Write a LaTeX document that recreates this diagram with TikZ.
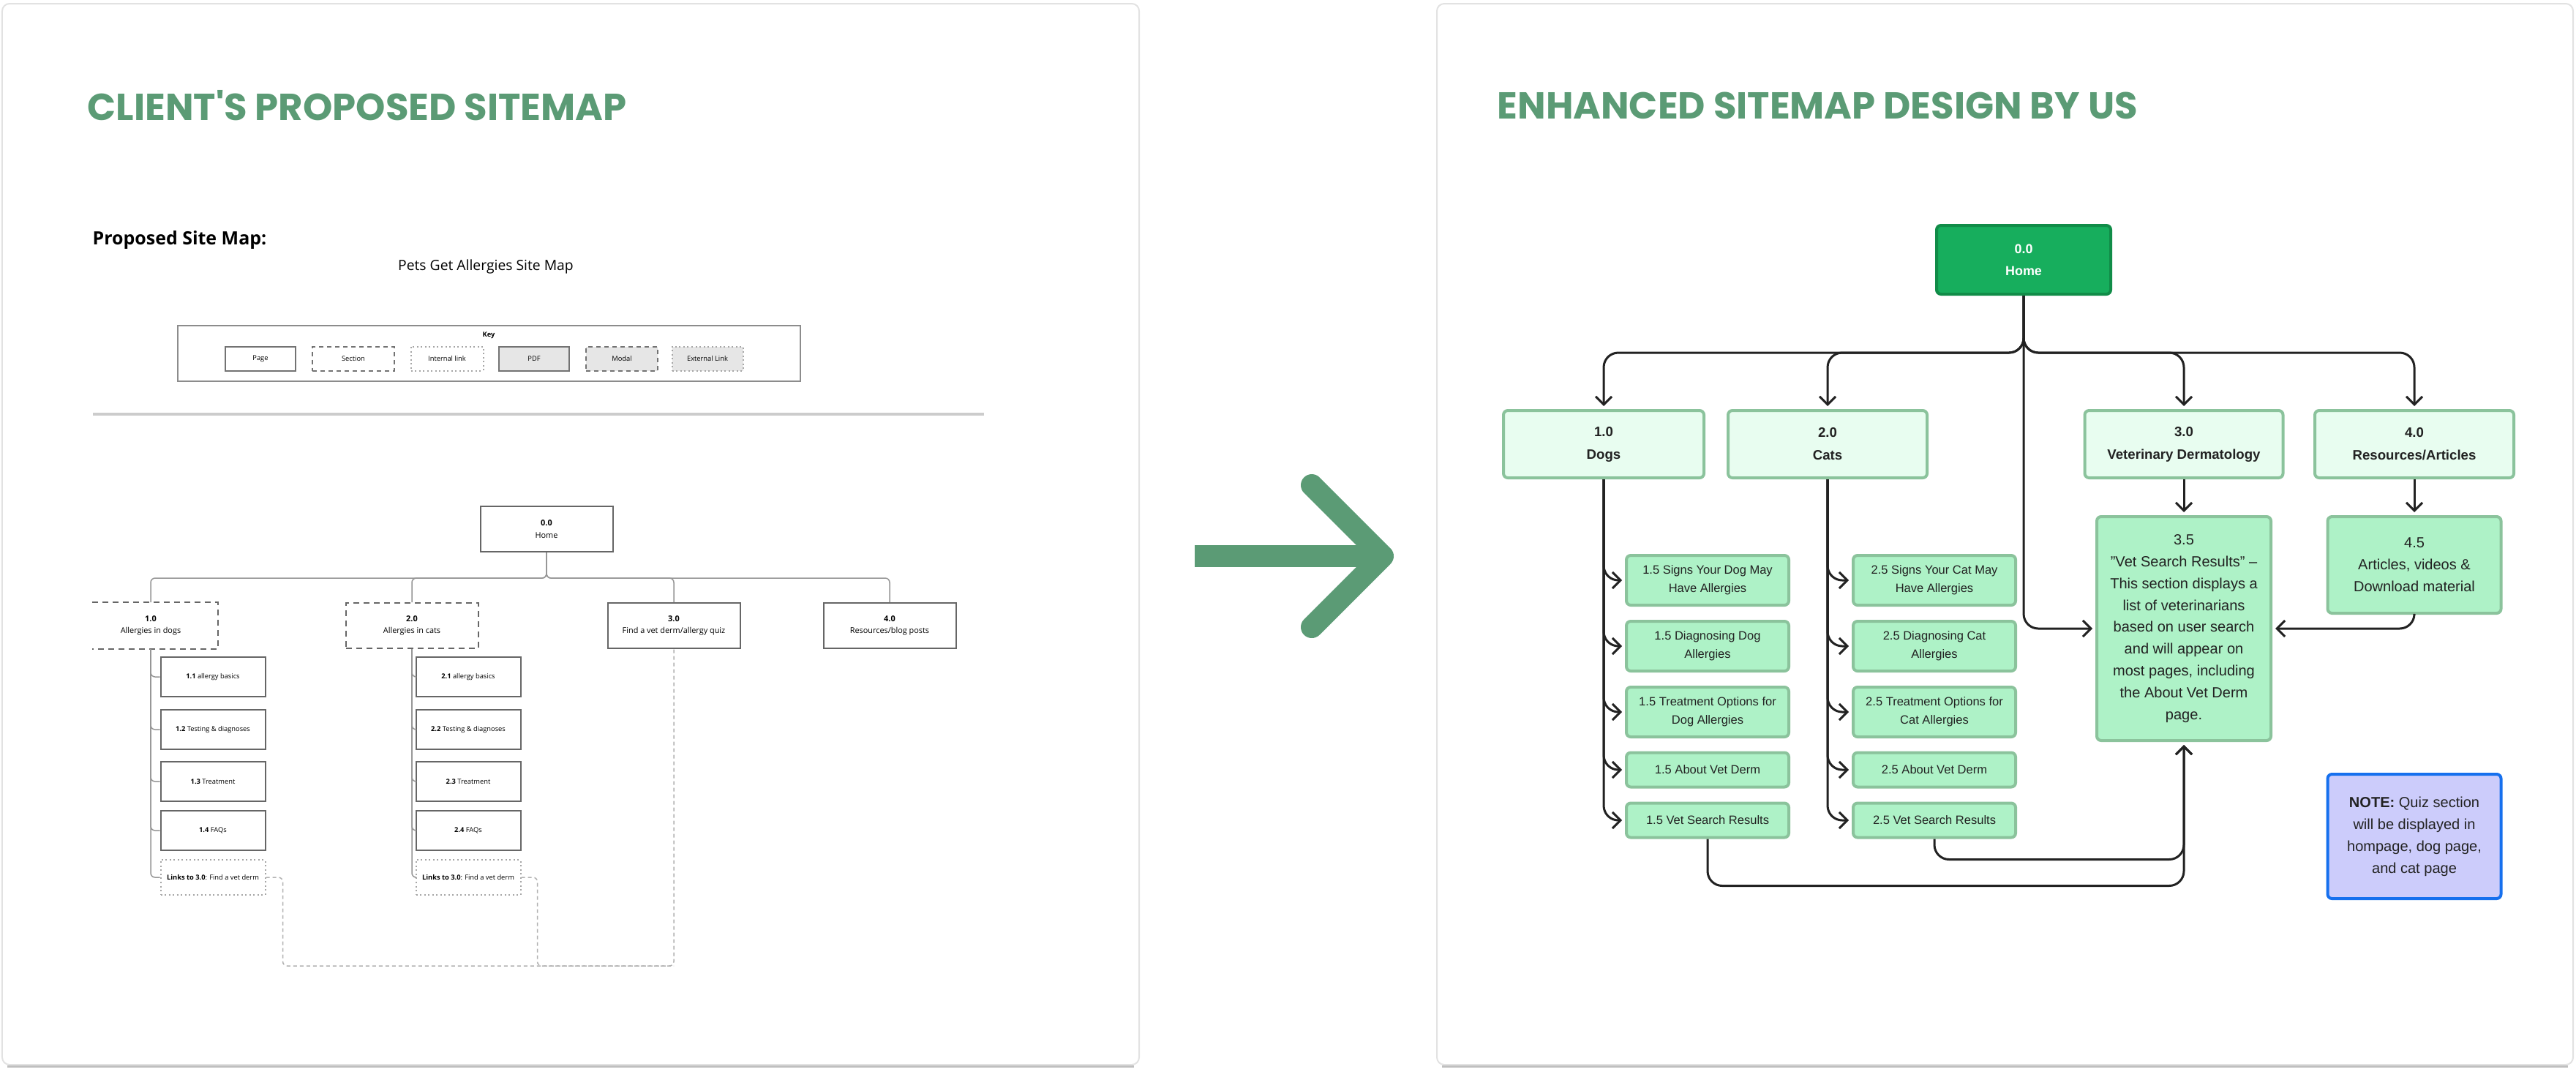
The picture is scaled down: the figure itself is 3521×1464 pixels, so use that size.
\documentclass[tikz,border=0pt]{standalone}
\usepackage{fontspec}
\setmainfont{Liberation Sans}
\newfontfamily\opensans{Open Sans}
\newfontfamily\poppins{Poppins}
\usetikzlibrary{arrows.meta,positioning}
\definecolor{titlegreen}{RGB}{91,155,117}
\definecolor{homegreen}{RGB}{23,174,93}
\definecolor{homeedge}{RGB}{17,140,72}
\definecolor{pagefill}{RGB}{232,253,240}
\definecolor{subfill}{RGB}{174,242,199}
\definecolor{boxedge}{RGB}{139,195,156}
\definecolor{notefill}{RGB}{204,204,251}
\definecolor{noteedge}{RGB}{22,112,238}
\definecolor{inkdark}{RGB}{34,34,34}
\definecolor{wiregray}{RGB}{150,150,150}
\definecolor{panelgray}{RGB}{226,226,226}
\definecolor{keyfill}{RGB}{230,230,230}

\begin{document}
\begin{tikzpicture}[x=0.1mm,y=-0.1mm,
    panel/.style={draw=panelgray,line width=0.2mm,rounded corners=1mm,fill=white},
    shade/.style={draw=black!25,line width=0.3mm},
    heading/.style={anchor=west,inner sep=0pt,text=titlegreen,font=\poppins\bfseries\fontsize{14.6}{16}\selectfont},
    pagebox/.style={draw=boxedge,fill=pagefill,line width=0.4mm,rounded corners=0.6mm,text=inkdark,align=center,inner sep=0pt,minimum height=9.2mm,font=\bfseries\fontsize{5.3}{8.8}\selectfont},
    subbox/.style={draw=boxedge,fill=subfill,line width=0.4mm,rounded corners=0.6mm,text=inkdark,align=center,inner sep=0pt,minimum width=22.2mm,font=\fontsize{4.7}{7}\selectfont},
    conn/.style={draw=inkdark,line width=0.3mm,rounded corners=2mm,shorten >=0.4mm,-{Straight Barb[length=1.1mm,width=2.2mm]}},
    oldbox/.style={draw=black!60,line width=0.2mm,inner sep=0pt,align=center,minimum width=18.1mm,minimum height=6.2mm,font=\opensans\fontsize{3.1}{4.6}\selectfont},
    oldsec/.style={oldbox,dash pattern=on 0.8mm off 0.6mm},
    oldsub/.style={oldbox,minimum width=14.3mm,minimum height=5.4mm,font=\opensans\fontsize{2.65}{3.5}\selectfont},
    keybox/.style={oldsub,draw=black!55,minimum height=3.3mm},
    wire/.style={draw=wiregray,line width=0.15mm,rounded corners=0.6mm},
    linkwire/.style={wire,draw=black!30,dash pattern=on 0.5mm off 0.4mm}]
  \useasboundingbox (0,0) rectangle (3521,1464);
  \draw[shade] (10,1457) -- (1550,1457);
  \draw[shade] (1971,1457) -- (3510,1457);
  \draw[panel] (3,5) rectangle (1557,1455);
  \draw[panel] (1964,5) rectangle (3517,1455);

  \node[heading] (lefttitle) at (119,144) {CLIENT\char39S PROPOSED SITEMAP};
  \node[heading] (righttitle) at (2046,144) {ENHANCED SITEMAP DESIGN BY US};

  \draw[titlegreen,line width=3mm] (1633,760) -- (1870,760);
  \draw[titlegreen,line width=3mm,line cap=round,line join=round] (1793,663) -- (1890,760) -- (1793,857);

  \node[anchor=west,inner sep=0pt,font=\opensans\bfseries\fontsize{7.1}{8}\selectfont] (proposed) at (126,328) {Proposed Site Map:};
  \node[inner sep=0pt,font=\opensans\fontsize{5.5}{6.5}\selectfont] (mapname) at (664,364) {Pets Get Allergies Site Map};
  \draw[draw=black!45,line width=0.2mm] (243,445) rectangle (1094,521);
  \node[inner sep=0pt,font=\opensans\bfseries\fontsize{2.65}{3.5}\selectfont] (keyhead) at (668,458) {Key};
  \node[keybox,minimum width=9.6mm] (kpage) at (356,490) {Page};
  \node[keybox,minimum width=11.2mm,dash pattern=on 0.6mm off 0.5mm] (ksection) at (483,490) {Section};
  \node[keybox,minimum width=9.9mm,draw=black!35,densely dotted] (kinternal) at (611,490) {Internal link};
  \node[keybox,minimum width=9.6mm,fill=keyfill] (kpdf) at (730,490) {PDF};
  \node[keybox,minimum width=9.8mm,fill=keyfill,dash pattern=on 0.6mm off 0.5mm] (kmodal) at (850,490) {Modal};
  \node[keybox,minimum width=9.7mm,fill=keyfill,draw=black!35,densely dotted] (kexternal) at (967,490) {External Link};
  \draw[draw=black!20,line width=0.4mm] (127,566) -- (1345,566);

  \node[oldbox] (o00) at (747,723) {\textbf{0.0}\\Home};
  \node[oldbox,draw=none] (o10) at (206,855) {\textbf{1.0}\\Allergies in dogs};
  \node[oldsec] (o20) at (563,855) {\textbf{2.0}\\Allergies in cats};
  \node[oldbox] (o30) at (921,855) {\textbf{3.0}\\Find a vet derm/allergy quiz};
  \node[oldbox] (o40) at (1216,855) {\textbf{4.0}\\Resources/blog posts};
  \draw[black!60,line width=0.2mm,dash pattern=on 0.8mm off 0.6mm] ([xshift=1.1mm]o10.north west) -- (o10.north east) -- (o10.south east) -- ([xshift=1.1mm]o10.south west);
  \foreach \b in {o10,o20,o30,o40}
    \draw[wire] (o00.south) -- ++(0,35) -| (\b.north);
  \foreach \n/\y/\t in {1/925/allergy basics,2/997/Testing \& diagnoses,3/1068/Treatment,4/1135/FAQs}{
    \node[oldsub] (od\n) at (291,\y) {\textbf{1.\n} \t};
    \node[oldsub] (oc\n) at (640,\y) {\textbf{2.\n} \t};
    \draw[wire] (o10.south) |- (od\n.west);
    \draw[wire] (o20.south) |- (oc\n.west);
  }
  \node[oldsub,draw=black!35,densely dotted,minimum height=4.8mm] (odlink) at (291,1199) {\textbf{Links to 3.0}: Find a vet derm};
  \node[oldsub,draw=black!35,densely dotted,minimum height=4.8mm] (oclink) at (640,1199) {\textbf{Links to 3.0}: Find a vet derm};
  \draw[wire] (o10.south) |- (odlink.west);
  \draw[wire] (o20.south) |- (oclink.west);
  \coordinate (linkbase) at (921,1320);
  \draw[linkwire] (odlink.east) -- ++(23,0) |- (linkbase) -- (o30.south);
  \draw[linkwire] (oclink.east) -- ++(22,0) |- (linkbase);

  \node[draw=homeedge,fill=homegreen,line width=0.4mm,rounded corners=0.6mm,text=white,align=center,inner sep=0pt,minimum width=23.8mm,minimum height=9.4mm,font=\bfseries\fontsize{5.1}{8.5}\selectfont] (home) at (2766,355) {0.0\\Home};
  \node[pagebox,minimum width=27.4mm] (dogs) at (2192,607) {1.0\\Dogs};
  \node[pagebox,minimum width=27.2mm] (cats) at (2498,607) {2.0\\Cats};
  \node[pagebox,minimum width=27.1mm] (vetderm) at (2985,607) {3.0\\Veterinary Dermatology};
  \node[pagebox,minimum width=27.2mm] (resources) at (3300,607) {4.0\\Resources/Articles};
  \foreach \b in {dogs,cats,vetderm,resources}
    \draw[conn] (home.south) -- ++(0,78) -| (\b.north);

  \foreach \n/\y/\h/\dtxt/\ctxt in {
      1/793/6.8/{1.5 Signs Your Dog May\\Have Allergies}/{2.5 Signs Your Cat May\\Have Allergies},
      2/883/6.8/{1.5 Diagnosing Dog\\Allergies}/{2.5 Diagnosing Cat\\Allergies},
      3/973/6.8/{1.5 Treatment Options for\\Dog Allergies}/{2.5 Treatment Options for\\Cat Allergies},
      4/1052/4.7/{1.5 About Vet Derm}/{2.5 About Vet Derm},
      5/1121/4.7/{1.5 Vet Search Results}/{2.5 Vet Search Results}}{
    \node[subbox,minimum height=\h mm] (d\n) at (2334,\y) {\dtxt};
    \node[subbox,minimum height=\h mm] (c\n) at (2644,\y) {\ctxt};
    \draw[conn] (dogs.south) |- (d\n.west);
    \draw[conn] (cats.south) |- (c\n.west);
  }

  \node[subbox,minimum width=23.8mm,minimum height=30.6mm,font=\fontsize{5.7}{8.5}\selectfont] (results) at (2985,859)
    {3.5\\"Vet Search Results" --\\This section displays a\\list of veterinarians\\based on user search\\and will appear on\\most pages, including\\the About Vet Derm\\page.};
  \node[subbox,minimum width=23.7mm,minimum height=13.2mm,font=\fontsize{5.7}{8.5}\selectfont] (articles) at (3300,772)
    {4.5\\Articles, videos \&\\Download material};
  \node[draw=noteedge,fill=notefill,line width=0.4mm,rounded corners=0.6mm,text=inkdark,align=center,inner sep=0pt,minimum width=23.7mm,minimum height=17mm,font=\fontsize{5.7}{8.5}\selectfont] (note) at (3300,1143)
    {\textbf{NOTE:} Quiz section\\will be displayed in\\hompage, dog page,\\and cat page};

  \draw[conn] (home.south) |- (results.west);
  \draw[conn] (vetderm.south) -- (results.north);
  \draw[conn] (resources.south) -- (articles.north);
  \draw[conn] (articles.south) |- (results.east);
  \draw[conn] (d5.south) -- ++(0,64) -| (results.south);
  \draw[conn] (c5.south) -- ++(0,28) -| (results.south);
\end{tikzpicture}
\end{document}
